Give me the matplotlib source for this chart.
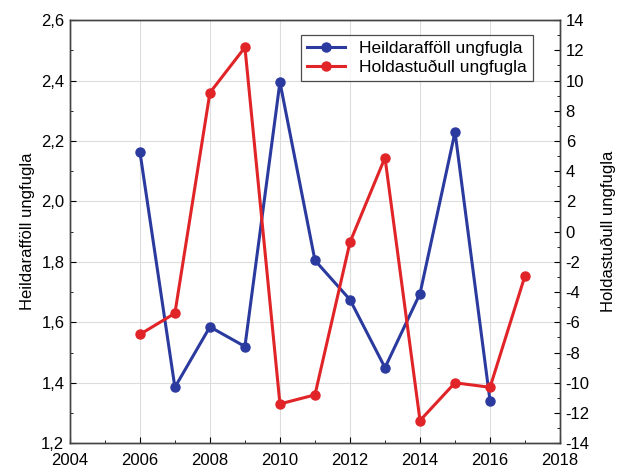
import numpy as np
import matplotlib
matplotlib.use("Agg")
import matplotlib.pyplot as plt
from matplotlib.ticker import MultipleLocator, FuncFormatter

plt.rcParams['font.family'] = ['Liberation Sans', 'DejaVu Sans']

# gögn
years_blue = [2006, 2007, 2008, 2009, 2010, 2011, 2012, 2013, 2014, 2015, 2016]
heildar = [2.165, 1.385, 1.585, 1.52, 2.395, 1.805, 1.675, 1.45, 1.695, 2.23, 1.34]
years_red = [2006, 2007, 2008, 2009, 2010, 2011, 2012, 2013, 2014, 2015, 2016, 2017]
holdast = [-6.8, -5.4, 9.2, 12.2, -11.4, -10.8, -0.7, 4.9, -12.5, -10.0, -10.3, -2.9]

blue = '#2b3a9e'
red = '#e02428'

fig, ax = plt.subplots(figsize=(6.35, 4.69), dpi=100)
fig.subplots_adjust(left=0.11, right=0.882, top=0.957, bottom=0.055)
ax2 = ax.twinx()

l1, = ax.plot(years_blue, heildar, color=blue, lw=2.2, marker='o', ms=6.5,
              label='Heildarafföll ungfugla')
l2, = ax2.plot(years_red, holdast, color=red, lw=2.2, marker='o', ms=6.5,
               label='Holdastuðull ungfugla')

ax.set_xlim(2004, 2018)
ax.set_ylim(1.2, 2.6)
ax2.set_ylim(-14, 14)
ax.xaxis.set_major_locator(MultipleLocator(2))
ax.xaxis.set_minor_locator(MultipleLocator(1))
ax.yaxis.set_major_locator(MultipleLocator(0.2))
ax.yaxis.set_minor_locator(MultipleLocator(0.1))
ax2.yaxis.set_major_locator(MultipleLocator(2))
ax2.yaxis.set_minor_locator(MultipleLocator(1))

comma = FuncFormatter(lambda v, p: f"{v:.1f}".replace('.', ','))
ax.yaxis.set_major_formatter(comma)
ax2.yaxis.set_major_formatter(FuncFormatter(lambda v, p: f"{v:.0f}"))

ax.grid(True, which='major', color='#dddddd', lw=0.8)
ax.set_axisbelow(True)

for a in (ax, ax2):
    a.tick_params(which='both', direction='in', labelsize=12, pad=4)
    a.tick_params(which='major', length=4)
    a.tick_params(which='minor', length=2.5)
    for s in a.spines.values():
        s.set_color('#444444')
        s.set_linewidth(1.0)
ax.tick_params(axis='x', which='both', pad=7)

ax.set_ylabel('Heildarafföll ungfugla', fontsize=12)
ax2.set_ylabel('Holdastuðull ungfugla', fontsize=12, labelpad=8)

leg = ax.legend(handles=[l1, l2], loc='upper right', bbox_to_anchor=(0.962, 0.985),
                fontsize=12.5, frameon=True, fancybox=False, edgecolor='#222222',
                handlelength=2.2, borderpad=0.35, labelspacing=0.2)
leg.get_frame().set_linewidth(0.9)

fig.savefig('out.png', dpi=100)
